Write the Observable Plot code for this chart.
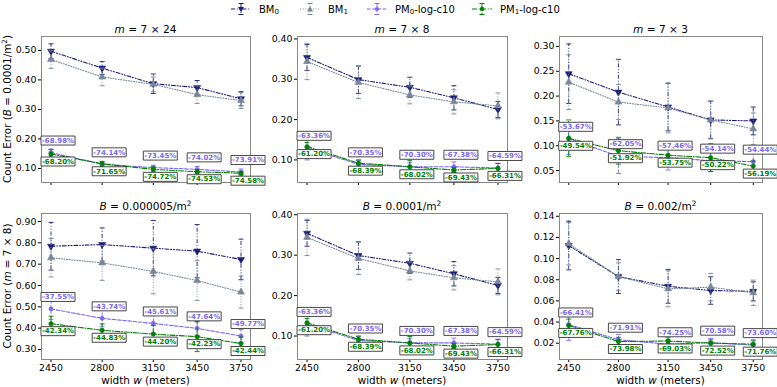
<!DOCTYPE html>
<html><head><meta charset="utf-8">
<script src="https://cdn.jsdelivr.net/npm/d3@7"></script>
<script src="https://cdn.jsdelivr.net/npm/@observablehq/plot@0.6"></script>
<style>
body{margin:0;background:#fff;font-family:"DejaVu Sans",sans-serif;}
#root{position:relative;width:777px;height:387px;overflow:hidden;background:#fff;}
.abs{position:absolute;white-space:nowrap;color:#000;}
.ttl{font-size:10.6px;transform:translate(-50%,-50%);}
.ylab{font-size:10.4px;transform:translate(-50%,-50%) rotate(-90deg);}
.xlab{font-size:10.4px;transform:translate(-50%,-50%);}
sup{font-size:70%;vertical-align:0.55em;line-height:0;}
sub{font-size:70%;vertical-align:-0.25em;line-height:0;}
.leg{font-size:10px;transform:translateY(-50%);}
</style></head><body><div id="root"></div>
<script>
// ---------- data ----------
const widths = [2450, 2800, 3150, 3450, 3750];
const seriesLabels = ["BM<sub>0</sub>", "BM<sub>1</sub>", "PM<sub>0</sub>-log-c10", "PM<sub>1</sub>-log-c10"];

// m = 7x24, B = 0.0001
const bm0_24 = [0.497, 0.440, 0.387, 0.374, 0.336];
const bm0e_24 = [0.025, 0.022, 0.033, 0.024, 0.024];
const bm1_24 = [0.469, 0.410, 0.385, 0.350, 0.330];
const bm1e_24 = [0.030, 0.030, 0.025, 0.030, 0.027];
const pm0_24 = [0.154, 0.114, 0.103, 0.097, 0.088];
const pm0e_24 = [0.012, 0.008, 0.008, 0.010, 0.010];
const pm1_24 = [0.149, 0.116, 0.097, 0.089, 0.084];
const pm1e_24 = [0.015, 0.008, 0.008, 0.007, 0.006];
const pct0_24 = ["-68.98%", "-74.14%", "-73.45%", "-74.02%", "-73.91%"];
const pct1_24 = ["-68.20%", "-71.65%", "-74.72%", "-74.53%", "-74.58%"];

// m = 7x8, B = 0.0001
const bm0_8 = [0.354, 0.299, 0.280, 0.254, 0.225];
const bm0e_8 = [0.032, 0.034, 0.025, 0.030, 0.020];
const bm1_8 = [0.344, 0.292, 0.261, 0.244, 0.234];
const bm1e_8 = [0.045, 0.040, 0.022, 0.030, 0.032];
const pm0_8 = [0.130, 0.089, 0.083, 0.083, 0.080];
const pm0e_8 = [0.030, 0.010, 0.010, 0.012, 0.012];
const pm1_8 = [0.133, 0.092, 0.083, 0.075, 0.079];
const pm1e_8 = [0.010, 0.008, 0.016, 0.006, 0.012];
const pct0_8 = ["-63.36%", "-70.35%", "-70.30%", "-67.38%", "-64.59%"];
const pct1_8 = ["-61.20%", "-68.39%", "-68.02%", "-69.43%", "-66.31%"];

// m = 7x3, B = 0.0001
const bm0_3 = [0.245, 0.208, 0.178, 0.152, 0.150];
const bm0e_3 = [0.060, 0.066, 0.048, 0.038, 0.028];
const bm1_3 = [0.228, 0.188, 0.176, 0.152, 0.134];
const bm1e_3 = [0.055, 0.035, 0.050, 0.037, 0.032];
const pm0_3 = [0.114, 0.079, 0.076, 0.070, 0.068];
const pm0e_3 = [0.032, 0.035, 0.025, 0.022, 0.020];
const pm1_3 = [0.115, 0.090, 0.081, 0.076, 0.059];
const pm1e_3 = [0.037, 0.027, 0.012, 0.028, 0.010];
const pct0_3 = ["-53.67%", "-62.05%", "-57.46%", "-54.14%", "-54.44%"];
const pct1_3 = ["-49.54%", "-51.92%", "-53.75%", "-50.22%", "-56.19%"];

// m = 7x8, B = 0.000005
const bm0_lo = [0.784, 0.792, 0.775, 0.761, 0.722];
const bm0e_lo = [0.112, 0.078, 0.130, 0.125, 0.095];
const bm1_lo = [0.730, 0.706, 0.666, 0.623, 0.569];
const bm1e_lo = [0.090, 0.082, 0.105, 0.093, 0.075];
const pm0_lo = [0.490, 0.446, 0.422, 0.399, 0.363];
const pm0e_lo = [0.050, 0.040, 0.045, 0.035, 0.030];
const pm1_lo = [0.421, 0.390, 0.372, 0.360, 0.328];
const pm1e_lo = [0.035, 0.030, 0.040, 0.070, 0.030];
const pct0_lo = ["-37.55%", "-43.74%", "-45.61%", "-47.64%", "-49.77%"];
const pct1_lo = ["-42.34%", "-44.83%", "-44.20%", "-42.23%", "-42.44%"];

// m = 7x8, B = 0.002
const bm0_hi = [0.1123, 0.0830, 0.0738, 0.0698, 0.0690];
const bm0e_hi = [0.023, 0.016, 0.016, 0.013, 0.009];
const bm1_hi = [0.1140, 0.0830, 0.0714, 0.0730, 0.0676];
const bm1e_hi = [0.020, 0.013, 0.017, 0.013, 0.012];
const pm0_hi = [0.0377, 0.0233, 0.0190, 0.0205, 0.0182];
const pm0e_hi = [0.015, 0.005, 0.004, 0.004, 0.004];
const pm1_hi = [0.0368, 0.0216, 0.0221, 0.0201, 0.0191];
const pm1e_hi = [0.006, 0.004, 0.003, 0.003, 0.004];
const pct0_hi = ["-66.41%", "-71.91%", "-74.25%", "-70.58%", "-73.60%"];
const pct1_hi = ["-67.76%", "-73.98%", "-69.03%", "-72.52%", "-71.76%"];

const ticks24 = [0.10, 0.20, 0.30, 0.40, 0.50];
const ticks8 = [0.10, 0.20, 0.30, 0.40];
const ticks3 = [0.05, 0.10, 0.15, 0.20, 0.25, 0.30];
const ticksLo = [0.30, 0.40, 0.50, 0.60, 0.70, 0.80, 0.90];
const ticksHi = [0.02, 0.04, 0.06, 0.08, 0.10, 0.12, 0.14];

// ---------- styles ----------
const S3 = Math.sqrt(3);
const triDown = {draw(ctx, size) { const y = -Math.sqrt(size / (S3 * 3)); ctx.moveTo(0, -y * 2); ctx.lineTo(-S3 * y, y); ctx.lineTo(S3 * y, y); ctx.closePath(); }};
const cap = {draw(ctx) { ctx.moveTo(-2.5, 0); ctx.lineTo(2.5, 0); }};
const box = {draw(ctx) { ctx.rect(-17, -4.5, 34, 9); }};
const styles = [
  {color: "#1c1c78", dash: "4,1.8,1,1.8,1,1.8", sym: triDown, r: 2.6},
  {color: "#778899", dash: "1,1.6", sym: "triangle", r: 2.6},
  {color: "#7b68ee", dash: "3.6,1.6", sym: "circle", r: 2.1},
  {color: "#008000", dash: "5,1.6,1,1.6", sym: "circle", r: 2.2}
];

const colX = [[41, 250], [297, 507], [559, 762]];
const rowY = [[36, 182], [213, 359]];

const panels = [
  {row: 0, col: 0, tv: "m", tr: " = 7 × 24", s: [[bm0_24, bm0e_24], [bm1_24, bm1e_24], [pm0_24, pm0e_24], [pm1_24, pm1e_24]], p0: pct0_24, p1: pct1_24, dom: [0.0525, 0.547], ticks: ticks24},
  {row: 0, col: 1, tv: "m", tr: " = 7 × 8", s: [[bm0_8, bm0e_8], [bm1_8, bm1e_8], [pm0_8, pm0e_8], [pm1_8, pm1e_8]], p0: pct0_8, p1: pct1_8, dom: [0.044, 0.406], ticks: ticks8},
  {row: 0, col: 2, tv: "m", tr: " = 7 × 3", s: [[bm0_3, bm0e_3], [bm1_3, bm1e_3], [pm0_3, pm0e_3], [pm1_3, pm1e_3]], p0: pct0_3, p1: pct1_3, dom: [0.026, 0.320], ticks: ticks3},
  {row: 1, col: 0, tv: "B", tr: " = 0.000005/m<sup>2</sup>", s: [[bm0_lo, bm0e_lo], [bm1_lo, bm1e_lo], [pm0_lo, pm0e_lo], [pm1_lo, pm1e_lo]], p0: pct0_lo, p1: pct1_lo, dom: [0.253, 0.9375], ticks: ticksLo},
  {row: 1, col: 1, tv: "B", tr: " = 0.0001/m<sup>2</sup>", s: [[bm0_8, bm0e_8], [bm1_8, bm1e_8], [pm0_8, pm0e_8], [pm1_8, pm1e_8]], p0: pct0_8, p1: pct1_8, dom: [0.042, 0.403], ticks: ticks8},
  {row: 1, col: 2, tv: "B", tr: " = 0.002/m<sup>2</sup>", s: [[bm0_hi, bm0e_hi], [bm1_hi, bm1e_hi], [pm0_hi, pm0e_hi], [pm1_hi, pm1e_hi]], p0: pct0_hi, p1: pct1_hi, dom: [0.0046, 0.1426], ticks: ticksHi}
];

const root = document.getElementById("root");
function addDiv(cls, html, x, y) {
  const d = document.createElement("div");
  d.className = "abs " + cls; d.innerHTML = html;
  d.style.left = x + "px"; d.style.top = y + "px";
  root.appendChild(d);
  return d;
}

const ml = 40, mr = 26, mt = 16, mb = 22;
for (const p of panels) {
  const [x0, x1] = colX[p.col], [y0, y1] = rowY[p.row];
  const series = p.s.map(([v, e]) => widths.map((w, i) => ({w, v: v[i], e: e[i]})));
  const marks = [];
  series.forEach((s, k) => {
    const st = styles[k];
    marks.push(
      Plot.line(s, {x: "w", y: "v", stroke: st.color, strokeWidth: 1.1, strokeDasharray: st.dash}),
      Plot.ruleX(s, {x: "w", y1: d => d.v - d.e, y2: d => d.v + d.e, stroke: st.color, strokeWidth: 0.9, strokeDasharray: st.dash}),
      Plot.dot(s, {x: "w", y: d => d.v - d.e, symbol: cap, stroke: st.color, fill: "none", strokeWidth: 0.9}),
      Plot.dot(s, {x: "w", y: d => d.v + d.e, symbol: cap, stroke: st.color, fill: "none", strokeWidth: 0.9}),
      Plot.dot(s, {x: "w", y: "v", symbol: st.sym, r: st.r, fill: st.color, stroke: st.color, strokeWidth: 0.6})
    );
  });
  marks.push(Plot.frame({stroke: "#888", strokeWidth: 1}));
  const lab0 = series[2].map((d, i) => ({...d, t: p.p0[i]}));
  const lab1 = series[3].map((d, i) => ({...d, t: p.p1[i]}));
  for (const [lab, dy, color] of [[lab0, -12, styles[2].color], [lab1, 7.5, styles[3].color]]) {
    marks.push(
      Plot.dot(lab, {x: "w", y: "v", symbol: box, dx: 7, dy, fill: "white", stroke: "#333", strokeWidth: 0.9}),
      Plot.text(lab, {x: "w", y: "v", text: "t", dx: 7, dy, fill: color, fontWeight: "bold", fontSize: 7})
    );
  }
  const svg = Plot.plot({
    width: (x1 - x0) + ml + mr, height: (y1 - y0) + mt + mb,
    marginLeft: ml, marginRight: mr, marginTop: mt, marginBottom: mb,
    x: {domain: [2385, 3815], ticks: widths, tickFormat: p.row === 1 ? "d" : () => "", tickSize: 3, tickPadding: 2, label: null},
    y: {domain: p.dom, ticks: p.ticks, tickFormat: ".2f", tickSize: 3, tickPadding: 2, label: null},
    style: {fontFamily: "DejaVu Sans", fontSize: "9.4px", background: "transparent", overflow: "visible", color: "#000"},
    marks
  });
  svg.style.position = "absolute";
  svg.style.left = (x0 - ml) + "px";
  svg.style.top = (y0 - mt) + "px";
  root.appendChild(svg);
  addDiv("ttl", `<i>${p.tv}</i>${p.tr}`, (x0 + x1) / 2, y0 - 7);
  if (p.row === 1) addDiv("xlab", "width <i>w</i> (meters)", (x0 + x1) / 2, 380);
}
addDiv("ylab", "Count Error (<i>B</i> = 0.0001/m<sup>2</sup>)", 7, 109);
addDiv("ylab", "Count Error (<i>m</i> = 7 × 8)", 7, 286);

// ---------- legend ----------
const legX = [231, 300, 367, 472];
function handleSvg(st, k) {
  const c = st.color;
  let m;
  if (k === 0) m = `<polygon points="10,10.2 7,5.1 13,5.1" fill="${c}"/>`;
  else if (k === 1) m = `<polygon points="10,4.3 7,9.4 13,9.4" fill="${c}"/>`;
  else m = `<circle cx="10" cy="7" r="${st.r}" fill="${c}"/>`;
  return `<svg width="20" height="14" style="display:block"><line x1="0" y1="7" x2="20" y2="7" stroke="${c}" stroke-width="1.1" stroke-dasharray="${st.dash}"/>` +
    `<line x1="10" y1="1.5" x2="10" y2="12.5" stroke="${c}" stroke-width="1" stroke-dasharray="${st.dash}"/>` +
    `<line x1="7.5" y1="1.5" x2="12.5" y2="1.5" stroke="${c}"/><line x1="7.5" y1="12.5" x2="12.5" y2="12.5" stroke="${c}"/>${m}</svg>`;
}
styles.forEach((st, k) => {
  addDiv("leg", handleSvg(st, k), legX[k], 9);
  addDiv("leg", seriesLabels[k], legX[k] + 28, 9);
});
</script></body></html>
